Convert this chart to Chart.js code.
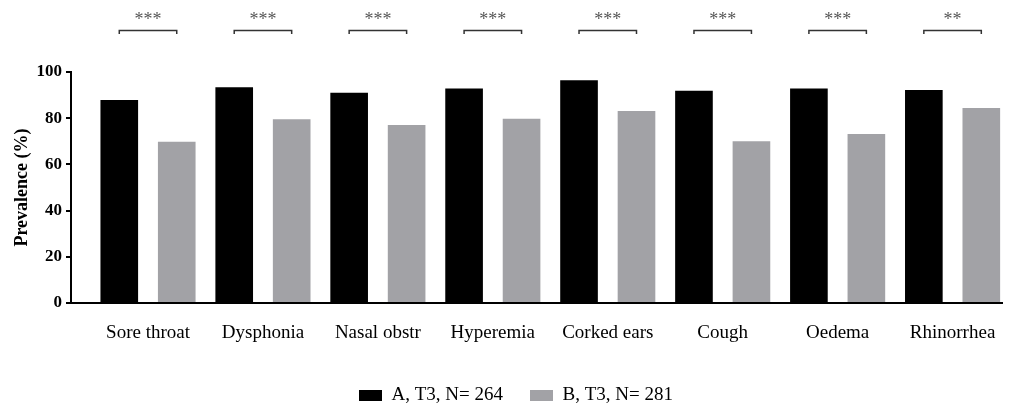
<!DOCTYPE html>
<html lang="en">
<head>
  <meta charset="utf-8">
  <title>Prevalence chart</title>
  <script src="https://cdn.jsdelivr.net/npm/chart.js@4.4.1/dist/chart.umd.min.js"></script>
  <style>
    html, body { margin: 0; padding: 0; background: #fff; }
    #wrap { width: 1018px; height: 405px; }
  </style>
</head>
<body>
<div id="wrap"><canvas id="myChart"></canvas></div>

<script>
var symptoms = ["Sore throat", "Dysphonia", "Nasal obstr", "Hyperemia", "Corked ears", "Cough", "Oedema", "Rhinorrhea"];
var groupA = [87.9, 93.4, 91.0, 92.9, 96.4, 91.9, 92.9, 92.2];
var groupB = [69.8, 79.5, 77.1, 79.8, 83.1, 70.0, 73.2, 84.4];
var signif = ["***", "***", "***", "***", "***", "***", "***", "**"];
var seriesNames = ["A, T3, N= 264", "B, T3, N= 281"];
var yTicks = [0, 20, 40, 60, 80, 100];

var serif = "'Liberation Serif', 'Times New Roman', serif";

function toPoints(arr) {
  return arr.map(function (v, i) { return { x: i, y: v }; });
}

// brackets + stars above each pair of bars
var sigPlugin = {
  id: "sig",
  afterDatasetsDraw: function (chart) {
    var ctx = chart.ctx;
    var m0 = chart.getDatasetMeta(0).data;
    var m1 = chart.getDatasetMeta(1).data;
    ctx.save();
    ctx.strokeStyle = "#333";
    ctx.lineWidth = 1.5;
    ctx.fillStyle = "#555";
    ctx.font = "18px " + serif;
    ctx.textAlign = "center";
    ctx.textBaseline = "alphabetic";
    for (var i = 0; i < signif.length; i++) {
      var x1 = m0[i].x, x2 = m1[i].x;
      ctx.beginPath();
      ctx.moveTo(x1, 34);
      ctx.lineTo(x1, 30.5);
      ctx.lineTo(x2, 30.5);
      ctx.lineTo(x2, 34);
      ctx.stroke();
      ctx.fillText(signif[i], (x1 + x2) / 2, 25);
    }
    ctx.restore();
  }
};

new Chart("myChart", {
  type: "bar",
  data: {
    datasets: [{
      label: seriesNames[0],
      data: toPoints(groupA),
      backgroundColor: "#000000",
      borderWidth: 0
    }, {
      label: seriesNames[1],
      data: toPoints(groupB),
      backgroundColor: "#a2a2a6",
      borderWidth: 0
    }]
  },
  options: {
    responsive: true,
    maintainAspectRatio: false,
    animation: false,
    categoryPercentage: 1,
    barPercentage: 0.655,
    layout: { padding: { left: 30, right: 16, top: 72, bottom: 0 } },
    plugins: {
      tooltip: { enabled: false },
      legend: {
        position: "bottom",
        maxHeight: 46,
        labels: {
          boxWidth: 23,
          boxHeight: 11,
          padding: 27,
          color: "#000",
          font: { family: serif, size: 19 }
        }
      }
    },
    scales: {
      x: {
        type: "linear",
        offset: false,
        bounds: "data",
        min: -0.67,
        max: 7.43,
        afterFit: function (s) { s.height = 56; },
        afterBuildTicks: function (s) {
          s.ticks = symptoms.map(function (n, i) { return { value: i }; });
        },
        grid: { display: false, drawTicks: false },
        border: { display: true, color: "#000", width: 2 },
        ticks: {
          autoSkip: false,
          maxRotation: 0,
          padding: 19,
          color: "#000",
          font: { family: serif, size: 19 },
          callback: function (v) { return symptoms[v]; }
        }
      },
      y: {
        min: 0,
        max: 100,
        afterFit: function (s) { s.width = 41; },
        afterBuildTicks: function (s) {
          s.ticks = yTicks.map(function (v) { return { value: v }; });
        },
        grid: { drawOnChartArea: false, drawTicks: true, tickLength: 5, color: "#000", lineWidth: 2 },
        border: { display: true, color: "#000", width: 2 },
        ticks: {
          padding: 4,
          color: "#000",
          font: { family: serif, size: 17, weight: "bold" }
        },
        title: {
          display: true,
          text: "Prevalence (%)",
          color: "#000",
          padding: { top: -18, bottom: 0 },
          font: { family: serif, size: 18, weight: "bold" }
        }
      }
    }
  },
  plugins: [sigPlugin]
});
</script>
</body>
</html>
